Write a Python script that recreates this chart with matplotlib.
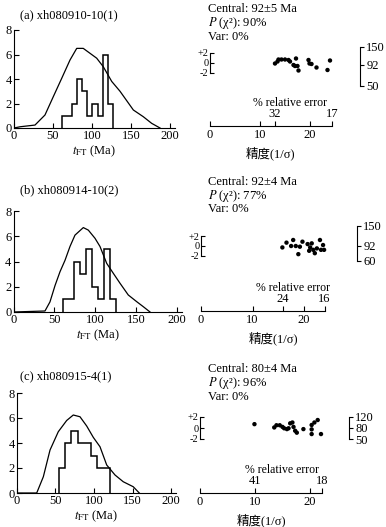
import matplotlib
matplotlib.use('Agg')
import matplotlib.pyplot as plt

plt.rcParams['font.family'] = ['Liberation Serif', 'Noto Sans CJK SC']
plt.rcParams['mathtext.fontset'] = 'stix'
plt.rcParams['axes.linewidth'] = 0.8

W, H = 386, 527

# ---------- data ----------
titles = ['(a) xh080910-10(1)', '(b) xh080914-10(2)', '(c) xh080915-4(1)']

# histogram of single-grain ages (Ma)
edges_a = [61, 67.6, 74.2, 80.8, 87.4, 94, 100.6, 107.2, 113.8, 120.4, 127]
counts_a = [1, 1, 2, 4, 3, 1, 2, 1, 6, 2]
edges_b = [60, 67.3, 74.6, 81.9, 89.2, 96.5, 103.8, 111.1, 118.4, 125.7]
counts_b = [1, 1, 4, 3, 5, 2, 1, 5, 1]
edges_c = [54, 62.3, 70.6, 78.9, 87.2, 95.5, 103.8, 112.1, 120.4]
counts_c = [2, 4, 5, 4, 4, 3, 2, 2]

# probability density curves
age_a = [0, 7.7, 26.9, 39.7, 50.4, 61.2, 71.8, 80.4, 88.8, 97.4, 106, 114.5,
         125.3, 135.9, 153, 165.8, 176.5, 187.2]
dens_a = [0, 0.1, 0.24, 1.06, 2.56, 4.06, 5.55, 6.5, 6.5, 6.1, 5.7, 5.0,
          3.8, 3.0, 1.47, 0.92, 0.38, 0]
age_b = [0, 38.5, 44.6, 50.8, 56.9, 63, 69.1, 75.2, 85.4, 91.5, 99.7, 105.8,
         114, 122.1, 130.3, 140.4, 150.7, 158.8, 167]
dens_b = [0, 0.08, 0.8, 2.1, 3.2, 4.1, 5.2, 6.1, 6.7, 6.5, 5.85, 5.2,
          3.86, 3.07, 2.28, 1.35, 0.82, 0.42, 0]
age_c = [0, 25.6, 34.2, 42.9, 53.6, 64.5, 73.1, 81.8, 90.5, 99.1, 107.8,
         116.5, 127.3, 138, 151, 158.8]
dens_c = [0, 0, 1.3, 3.44, 4.9, 5.8, 6.24, 6.1, 5.36, 4.45, 3.7,
          2.24, 1.44, 0.9, 0.5, 0]

# radial plot: precision (1/sigma) and standardised estimate
prec_a = [13.0, 13.5, 13.7, 14.3, 15.0, 15.7, 16.0, 16.7, 17.0, 17.2, 17.5,
          17.7, 19.7, 19.9, 20.3, 21.3, 23.5, 24.0]
z_a = [-0.1, 0.3, 0.7, 0.7, 0.7, 0.6, 0.3, -0.4, -0.6, 0.9, -0.6,
       -1.5, 0.6, -0.1, -0.2, -0.9, -1.4, 0.5]
prec_b = [15.8, 16.6, 17.5, 17.9, 18.4, 18.9, 19.2, 19.7, 20.7, 21.0, 21.2,
          21.5, 21.8, 22.1, 22.5, 23.1, 23.3, 23.7, 23.9]
z_b = [-0.3, 0.7, 0.0, 1.25, 0.0, -1.7, -0.15, 0.9, 0.4, -1.0, -0.3,
       0.55, -0.8, -1.5, -0.5, 1.25, -0.8, 0.2, -0.8]
prec_c = [9.9, 13.5, 13.9, 14.5, 15.0, 15.3, 15.8, 16.1, 16.4, 16.8, 17.0,
          17.3, 17.6, 18.8, 20.3, 20.3, 20.3, 20.8, 21.4, 22.0]
z_c = [0.7, 0.1, 0.5, 0.5, 0.2, -0.05, -0.2, -0.05, 0.85, 1.0, 0.2,
       -0.5, -0.85, -0.2, 0.55, -0.25, -1.1, 1.0, 1.45, -1.1]

central_txt = ['Central: 92\u00b15 Ma', 'Central: 92\u00b14 Ma', 'Central: 80\u00b14 Ma']
p_chi2 = ['90%', '77%', '96%']
var_txt = ['Var: 0%', 'Var: 0%', 'Var: 0%']

arc_ticks = [[3.2, -0.4, -4.6], [4.2, 0, -3.1], [2.05, 0, -2]]
arc_labels = [['150', '92', '50'], ['150', '92', '60'], ['120', '80', '50']]
prec_max = [24.4, 24.0, 22.2]
relerr_pos = [[13.0, 24.4], [15.9, 24.0], [10.0, 22.2]]
relerr_labels = [['32', '17'], ['24', '16'], ['41', '18']]

# ---------- layout (pixels) ----------
hist_layout = [  # x of 0, px per Ma, y of 0, px per count
    (14, 0.78, 128, 12.25),
    (13.5, 0.8175, 312, 12.6),
    (17, 0.77, 493, 12.5),
]
rad_layout = [  # x of 0, px per unit, y of 0, px per unit, bottom px, top px, arc x, label x, xlabel x
    (210, 5.0, 63, 5.0, 126, 40, 30.0, 16.0, 12.0),
    (201, 5.15, 246, 4.8, 311, 220, 30.3, 17.9, 14.0),
    (200, 5.5, 428, 5.5, 493, 405, 27.1, 14.9, 11.2),
]
title_y = [15, 190, 376]
text_y = [(9, 23, 37), (182, 196, 209), (369, 383, 397)]

fig = plt.figure(figsize=(W / 100, H / 100), dpi=100)


def px_axes(x0, xs, xlim, y0, ys, ylim):
    left = x0 + xlim[0] * xs
    width = (xlim[1] - xlim[0]) * xs
    bot = y0 - ylim[0] * ys
    height = (ylim[1] - ylim[0]) * ys
    ax = fig.add_axes([left / W, 1 - bot / H, width / W, height / H])
    ax.set_xlim(*xlim)
    ax.set_ylim(*ylim)
    ax.patch.set_visible(False)
    return ax


hists = [(edges_a, counts_a, age_a, dens_a),
         (edges_b, counts_b, age_b, dens_b),
         (edges_c, counts_c, age_c, dens_c)]
rads = [(prec_a, z_a), (prec_b, z_b), (prec_c, z_c)]

for i in range(3):
    # left: histogram + density
    x0, xs, y0, ys = hist_layout[i]
    ax = px_axes(x0, xs, (0, 206), y0, ys, (0, 8.1))
    edges, counts, age, dens = hists[i]
    ax.stairs(counts, edges, color='black', lw=1.1)
    ax.plot(age, dens, color='black', lw=0.9)
    for s in ['top', 'right']:
        ax.spines[s].set_visible(False)
    ax.spines['left'].set_bounds(0, 8)
    ax.spines['bottom'].set_bounds(0, 206)
    ax.set_xticks([0, 50, 100, 150, 200])
    ax.set_yticks([0, 2, 4, 6, 8])
    ax.tick_params(direction='in', length=3.5, width=0.8, labelsize=9, pad=1.5)
    ax.set_xlabel(r'$t_{\rm FT}$ (Ma)', fontsize=9, labelpad=1)
    fig.text(20 / W, 1 - title_y[i] / H, titles[i], fontsize=9, va='center')

    # right: radial plot
    rx0, rxs, ry0, rys, rbot, rtop, arc_x, lab_x, xl_x = rad_layout[i]
    ylo = -(rbot - ry0) / rys
    yhi = (ry0 - rtop) / rys
    ax2 = px_axes(rx0, rxs, (0, 34), ry0, rys, (ylo, yhi))
    prec, z = rads[i]
    ax2.scatter(prec, z, s=10, color='black', edgecolors='none', zorder=3)
    ax2.spines['top'].set_visible(False)
    ax2.spines['right'].set_visible(False)
    ax2.spines['left'].set_bounds(-2, 2)
    ax2.spines['bottom'].set_bounds(0, prec_max[i])
    ax2.set_yticks([-2, 0, 2])
    ax2.set_yticklabels(['-2', '0', '+2'])
    ax2.set_xticks([0, 10, 20])
    ax2.set_xticks(relerr_pos[i], minor=True)
    ax2.tick_params(axis='y', direction='in', length=3, width=0.8, labelsize=7.5, pad=1)
    ax2.tick_params(axis='x', which='both', direction='in', length=3.5, width=0.8,
                    labelsize=9, pad=2)
    for p, lab in zip(relerr_pos[i], relerr_labels[i]):
        ax2.annotate(lab, xy=(p, ylo), xytext=(0, 4), textcoords='offset points',
                     ha='center', va='bottom', fontsize=9)
    ax2.annotate('% relative error', xy=(lab_x, ylo), xytext=(0, 12),
                 textcoords='offset points', ha='center', va='bottom', fontsize=8.5)
    ax2.annotate('精度(1/σ)', xy=(xl_x, ylo), xytext=(0, -15),
                 textcoords='offset points', ha='center', va='top', fontsize=9)

    tw = ax2.twinx()
    tw.set_ylim(ylo, yhi)
    tw.patch.set_visible(False)
    for s in ['top', 'left', 'bottom']:
        tw.spines[s].set_visible(False)
    tw.spines['right'].set_position(('data', arc_x))
    tw.spines['right'].set_bounds(min(arc_ticks[i]), max(arc_ticks[i]))
    tw.set_yticks(arc_ticks[i])
    tw.set_yticklabels(arc_labels[i])
    tw.tick_params(direction='out', length=3, width=0.8, labelsize=9, pad=1.5)

    ty = text_y[i]
    fig.text(208 / W, 1 - ty[0] / H, central_txt[i], fontsize=9, va='center')
    fig.text(208 / W, 1 - ty[1] / H, r'$P$ (χ²): ' + p_chi2[i], fontsize=9, va='center')
    fig.text(208 / W, 1 - ty[2] / H, var_txt[i], fontsize=9, va='center')

fig.savefig('out.png', dpi=100)
